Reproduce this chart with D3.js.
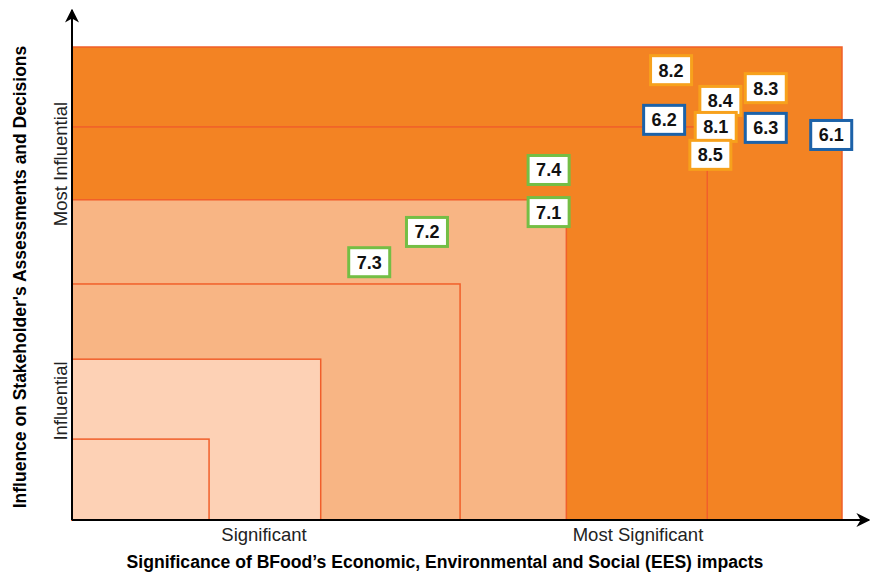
<!DOCTYPE html>
<html>
<head>
<meta charset="utf-8">
<script src="https://cdn.jsdelivr.net/npm/d3@7"></script>
<style>
  body { margin: 0; background: #fff; }
  text { font-family: "Liberation Sans", Arial, sans-serif; }
</style>
</head>
<body>
<div id="chart"></div>
<script>
// zone boundaries (0-100 scale on both axes), outer to inner
let zoneX = [100, 82.5, 64.2, 50.4, 32.3, 17.8];
let zoneY = [100, 83.1, 67.7, 49.9, 34.0, 17.1];
let zoneFill = ["#F38323", "#F38323", "#F8B584", "#F8B584", "#FDD1B5", "#FDD1B5"];

// topics
let ids    = ["8.2", "8.3", "8.4", "6.2", "8.1", "6.3", "6.1", "8.5", "7.4", "7.1", "7.2", "7.3"];
let xVals  = [77.8, 90.1, 84.2, 76.9, 83.6, 90.1, 98.6, 82.9, 61.9, 61.9, 46.1, 38.6];
let yVals  = [95.1, 91.3, 88.6, 84.6, 83.1, 82.9, 81.4, 77.2, 74.0, 65.1, 60.9, 54.5];
let groups = ["8", "8", "8", "6", "8", "6", "6", "8", "7", "7", "7", "7"];

let groupColor = {"6": "#1C62A9", "7": "#74BE45", "8": "#F7A11C"};

let width = 870, height = 573,
    margin = {top: 47, right: 28, bottom: 53, left: 72};

let x = d3.scaleLinear().domain([0, 100]).range([margin.left, width - margin.right]);
let y = d3.scaleLinear().domain([0, 100]).range([height - margin.bottom, margin.top]);

let svg = d3.select("#chart").append("svg")
    .attr("width", width)
    .attr("height", height);

// nested zones
svg.selectAll("rect.zone")
    .data(zoneX.map((d, i) => ({x: d, y: zoneY[i], fill: zoneFill[i]})))
    .enter().append("rect")
    .attr("class", "zone")
    .attr("x", x(0))
    .attr("y", d => y(d.y))
    .attr("width", d => x(d.x) - x(0))
    .attr("height", d => y(0) - y(d.y))
    .attr("fill", d => d.fill)
    .attr("stroke", "#F15F2A")
    .attr("stroke-width", 1.5);

// axes with arrows
let defs = svg.append("defs");
defs.append("marker")
    .attr("id", "arrow")
    .attr("viewBox", "0 0 10 10")
    .attr("refX", 9).attr("refY", 5)
    .attr("markerWidth", 7).attr("markerHeight", 7)
    .attr("orient", "auto")
    .append("path")
    .attr("d", "M0,0 L10,5 L0,10 L3,5 Z")
    .attr("fill", "#000");

svg.append("line")
    .attr("x1", x(0)).attr("y1", y(0))
    .attr("x2", 869).attr("y2", y(0))
    .attr("stroke", "#000").attr("stroke-width", 2)
    .attr("marker-end", "url(#arrow)");

svg.append("line")
    .attr("x1", x(0)).attr("y1", y(0))
    .attr("x2", x(0)).attr("y2", 10)
    .attr("stroke", "#000").attr("stroke-width", 2)
    .attr("marker-end", "url(#arrow)");

// category labels
svg.append("text").attr("x", 264).attr("y", 541)
    .attr("text-anchor", "middle").attr("font-size", 18.5).attr("fill", "#222")
    .text("Significant");
svg.append("text").attr("x", 638).attr("y", 541)
    .attr("text-anchor", "middle").attr("font-size", 18.5).attr("fill", "#222")
    .text("Most Significant");

svg.append("text")
    .attr("transform", "translate(67,164) rotate(-90)")
    .attr("text-anchor", "middle").attr("font-size", 18.5).attr("fill", "#222")
    .text("Most Influential");
svg.append("text")
    .attr("transform", "translate(67,401) rotate(-90)")
    .attr("text-anchor", "middle").attr("font-size", 18.5).attr("fill", "#222")
    .text("Influential");

// axis titles
svg.append("text").attr("x", 445).attr("y", 568)
    .attr("text-anchor", "middle").attr("font-size", 17.6).attr("font-weight", "bold")
    .text("Significance of BFood\u2019s Economic, Environmental and Social (EES) impacts");
svg.append("text")
    .attr("transform", "translate(26,277) rotate(-90)")
    .attr("text-anchor", "middle").attr("font-size", 17.5).attr("font-weight", "bold")
    .text("Influence on Stakeholder's Assessments and Decisions");

// topic boxes
let topics = ids.map((d, i) => ({id: d, x: xVals[i], y: yVals[i], g: groups[i]}));
let bw = 41, bh = 29;

let box = svg.selectAll("g.topic")
    .data(topics)
    .enter().append("g")
    .attr("class", "topic")
    .attr("transform", d => "translate(" + x(d.x) + "," + y(d.y) + ")");

box.append("rect")
    .attr("x", -bw / 2).attr("y", -bh / 2)
    .attr("width", bw).attr("height", bh)
    .attr("fill", "#fff")
    .attr("stroke", d => groupColor[d.g])
    .attr("stroke-width", 3);

box.append("text")
    .attr("text-anchor", "middle")
    .attr("dy", "0.36em")
    .attr("font-size", 18).attr("font-weight", "bold")
    .attr("fill", "#111")
    .text(d => d.id);
</script>
</body>
</html>
